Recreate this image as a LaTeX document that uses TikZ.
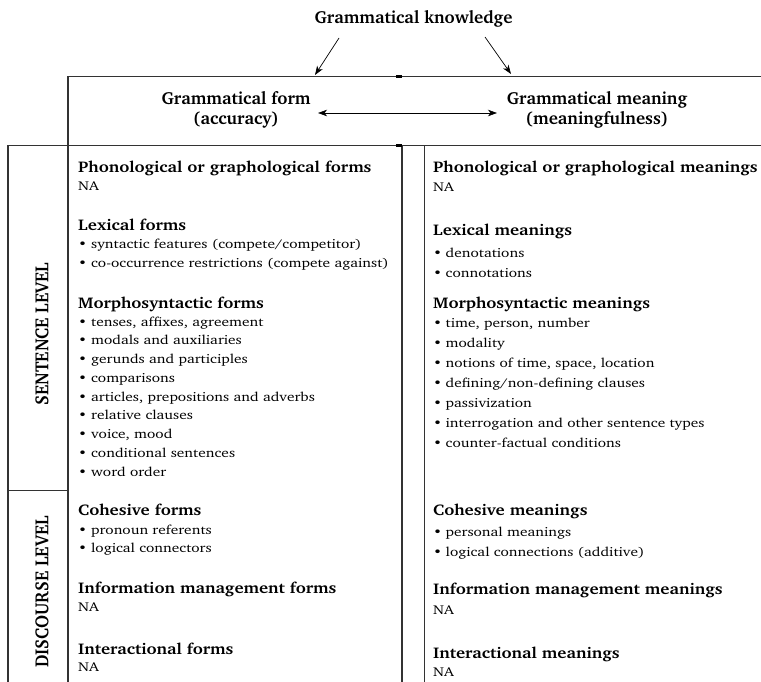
\documentclass[tikz,border=0pt]{standalone}
\usepackage[T1]{fontenc}
\usepackage{charter}
\usepackage{graphicx}
\usetikzlibrary{arrows.meta}
% body text and headings are set slightly widened
\newcommand\itx[1]{\scalebox{1.2}[1]{#1}}
\newcommand\hdx[1]{\scalebox{1.12}[1]{#1}}
\newcommand\lvx[1]{\scalebox{0.91}[1]{#1}}
\newcommand\bulL[1]{\itx{\makebox[10.8pt][l]{\textbullet}#1}}
\newcommand\bulR[1]{\itx{\makebox[10.4pt][l]{\textbullet}#1}}
\begin{document}
\begin{tikzpicture}[x=1pt,y=-1pt,
  rule/.style={line width=1.1pt, draw=black!80},
  tick/.style={line width=2.4pt, draw=black},
  arr/.style={line width=0.7pt, -{Stealth[length=9pt,width=6.5pt,inset=2.5pt]}},
  darr/.style={line width=0.7pt, {Stealth[length=9pt,width=6.5pt,inset=2.5pt]}-{Stealth[length=9pt,width=6.5pt,inset=2.5pt]}},
  ttl/.style={inner sep=0pt, font=\fontsize{17.5}{21}\selectfont\bfseries},
  col/.style={inner sep=0pt, align=center, font=\fontsize{17.5}{20}\selectfont\bfseries},
  lvl/.style={inner sep=0pt, rotate=90, font=\fontsize{19}{22}\selectfont\bfseries},
  hd/.style={anchor=base west, inner sep=0pt, font=\fontsize{15.5}{18}\selectfont\bfseries},
  it/.style={anchor=base west, inner sep=0pt, font=\fontsize{12.8}{15}\selectfont},
]
\useasboundingbox (0,0) rectangle (761,682);

% ---- frame lines ----
\draw[rule] (68,76.5) -- (761,76.5);
\draw[rule] (68,76.5) -- (68,682);
\draw[rule] (8,145.5) -- (761,145.5);
\draw[rule] (8,145.5) -- (8,682);
\draw[rule] (8,490.5) -- (68,490.5);
\draw[rule] (402,145.5) -- (402,682);
\draw[rule] (424.5,145.5) -- (424.5,682);
\draw[tick] (396,76.5) -- (402,76.5);
\draw[tick] (396,145.5) -- (402,145.5);

% ---- top: knowledge, form, meaning ----
\node[ttl] (gk) at (413.5,19) {Grammatical knowledge};
\coordinate (gkL) at (339,38);
\coordinate (gkR) at (485,37);
\coordinate (tipL) at (315,75);
\coordinate (tipR) at (511,74);
\draw[arr] (gkL) -- (tipL);
\draw[arr] (gkR) -- (tipR);

\node[col] (form) at (236,110) {Grammatical form\\(accuracy)};
\node[col] (mean) at (597,110) {Grammatical meaning\\(meaningfulness)};
\coordinate (fa) at (318,113);
\coordinate (ma) at (497,113);
\draw[darr] (fa) -- (ma);

% ---- level labels ----
\node[lvl] (sent) at (42,334) {\lvx{SENTENCE LEVEL}};
\node[lvl] (disc) at (42,592) {\lvx{DISCOURSE LEVEL}};

% ---- form column ----
\node[hd] (fphon) at (78,173) {\hdx{Phonological or graphological forms}};
\node[it] (fphonna) at (78,190.5) {\itx{NA}};
\node[hd] (flex) at (78,230) {\hdx{Lexical forms}};
\node[it] (flex1) at (78,248) {\bulL{syntactic features (compete/competitor)}};
\node[it] (flex2) at (78,267) {\bulL{co-occurrence restrictions (compete against)}};
\node[hd] (fmor) at (78,308) {\hdx{Morphosyntactic forms}};
\foreach \t [count=\i from 0] in {{tenses, affixes, agreement},{modals and auxiliaries},
  {gerunds and participles},{comparisons},{articles, prepositions and adverbs},
  {relative clauses},{voice, mood},{conditional sentences},{word order}}
  \node[it] (fmor\i) at (78,326+18.75*\i) {\bulL{\t}};
\node[hd] (fcoh) at (78,515) {\hdx{Cohesive forms}};
\node[it] (fcoh1) at (78,534) {\bulL{pronoun referents}};
\node[it] (fcoh2) at (78,552.5) {\bulL{logical connectors}};
\node[hd] (finf) at (78,593) {\hdx{Information management forms}};
\node[it] (finfna) at (78,611.5) {\itx{NA}};
\node[hd] (fint) at (78,654) {\hdx{Interactional forms}};
\node[it] (fintna) at (78,671.5) {\itx{NA}};

% ---- meaning column ----
\node[hd] (mphon) at (433,173) {\hdx{Phonological or graphological meanings}};
\node[it] (mphonna) at (433,192) {\itx{NA}};
\node[hd] (mlex) at (433,236) {\hdx{Lexical meanings}};
\node[it] (mlex1) at (433,257) {\bulR{denotations}};
\node[it] (mlex2) at (433,277) {\bulR{connotations}};
\node[hd] (mmor) at (433,308) {\hdx{Morphosyntactic meanings}};
\foreach \t [count=\i from 0] in {{time, person, number},{modality},
  {notions of time, space, location},{defining/non-defining clauses},{passivization},
  {interrogation and other sentence types},{counter-factual conditions}}
  \node[it] (mmor\i) at (433,327+20*\i) {\bulR{\t}};
\node[hd] (mcoh) at (433,515) {\hdx{Cohesive meanings}};
\node[it] (mcoh1) at (433,536) {\bulR{personal meanings}};
\node[it] (mcoh2) at (433,556) {\bulR{logical connections (additive)}};
\node[hd] (minf) at (433,594) {\hdx{Information management meanings}};
\node[it] (minfna) at (433,614) {\itx{NA}};
\node[hd] (mint) at (433,658) {\hdx{Interactional meanings}};
\node[it] (mintna) at (433,676) {\itx{NA}};
\end{tikzpicture}
\end{document}
